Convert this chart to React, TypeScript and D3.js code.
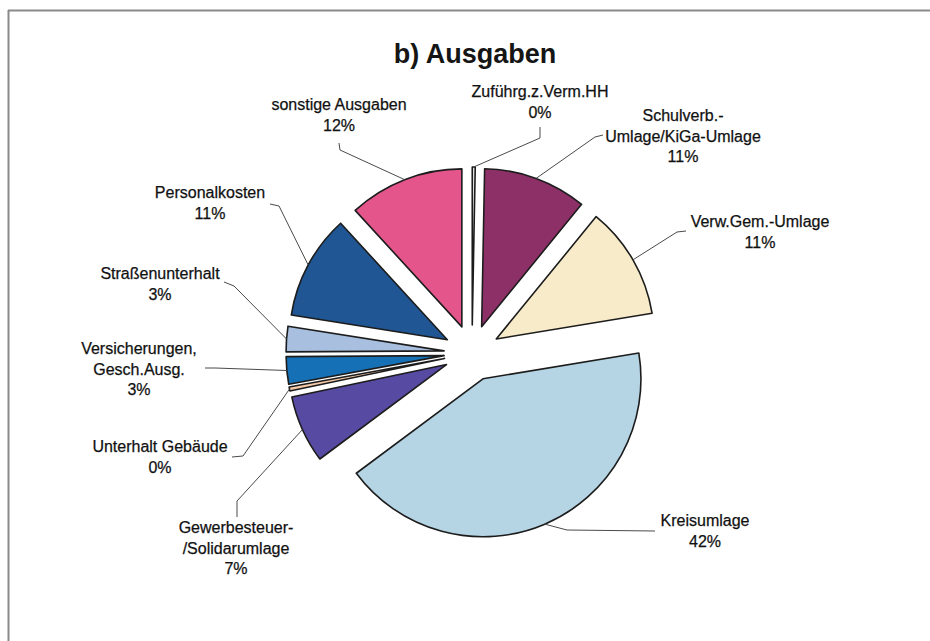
import React from "react";
import * as d3 from "d3";

const categories = [
  "Zuführg.z.Verm.HH",
  "Schulverb.-Umlage/KiGa-Umlage",
  "Verw.Gem.-Umlage",
  "Kreisumlage",
  "Gewerbesteuer-/Solidarumlage",
  "Unterhalt Gebäude",
  "Versicherungen, Gesch.Ausg.",
  "Straßenunterhalt",
  "Personalkosten",
  "sonstige Ausgaben",
];
const values = [0.3, 10.6, 11.5, 42.4, 6.9, 0.4, 2.8, 2.6, 10.7, 11.8];
const percentLabels = ["0%", "11%", "11%", "42%", "7%", "0%", "3%", "3%", "11%", "12%"];
const nameLines = [
  ["Zuführg.z.Verm.HH"],
  ["Schulverb.-", "Umlage/KiGa-Umlage"],
  ["Verw.Gem.-Umlage"],
  ["Kreisumlage"],
  ["Gewerbesteuer-", "/Solidarumlage"],
  ["Unterhalt Gebäude"],
  ["Versicherungen,", "Gesch.Ausg."],
  ["Straßenunterhalt"],
  ["Personalkosten"],
  ["sonstige Ausgaben"],
];
const colors = [
  "#ececec", "#8e3068", "#f7ebc9", "#b5d4e4", "#574aa3",
  "#f3c9a8", "#1670b5", "#a8bfe0", "#1f5693", "#e4558b",
];

// layout (text centre x, first baseline y, leader start, leader elbow)
const labelLayout = [
  { x: 540, y: 97, start: [540, 127], elbow: [540, 138] },
  { x: 683, y: 121, start: [603, 135], elbow: [595, 137] },
  { x: 760, y: 227, start: [686, 231], elbow: [677, 232] },
  { x: 705, y: 526, start: [655, 531], elbow: [567, 530] },
  { x: 236, y: 533, start: [237, 517], elbow: [237, 501] },
  { x: 160, y: 452, start: [232, 457], elbow: [243, 456] },
  { x: 139, y: 354, start: [205, 368], elbow: [215, 368] },
  { x: 160, y: 279, start: [224, 282], elbow: [234, 286] },
  { x: 210, y: 198, start: [270, 204], elbow: [279, 206] },
  { x: 339, y: 110, start: [339, 143], elbow: [340, 150] },
];

const W = 930;
const H = 641;
const cx = 472;
const cy = 353;
const radius = 158;
const explode = 28;

export default function App() {
  const pie = d3.pie<number>().sort(null).value((d) => d);
  const arcs = pie(values);
  const arcGen = d3.arc<d3.PieArcDatum<number>>().innerRadius(0).outerRadius(radius);
  const line = d3.line();

  return (
    <svg
      width={W}
      height={H}
      style={{ position: "absolute", left: 0, top: 0, background: "#fff" }}
      fontFamily="'Liberation Sans', Arial, sans-serif"
    >
      <rect x={0} y={0} width={W} height={H} fill="#fff" />
      <line x1={8} y1={10.5} x2={W} y2={10.5} stroke="#8a8a8a" strokeWidth={2} />
      <line x1={8.5} y1={10} x2={8.5} y2={H} stroke="#8a8a8a" strokeWidth={2} />
      <text
        x={475}
        y={63}
        textAnchor="middle"
        fontSize={27}
        fontWeight="bold"
        fill="#151515"
      >
        b) Ausgaben
      </text>
      <g transform={`translate(${cx},${cy})`}>
        {arcs.map((a, i) => {
          const mid = (a.startAngle + a.endAngle) / 2;
          const dx = explode * Math.sin(mid);
          const dy = -explode * Math.cos(mid);
          return (
            <path
              key={categories[i]}
              d={arcGen(a) || ""}
              transform={`translate(${dx},${dy})`}
              fill={colors[i]}
              stroke="#1c1c1c"
              strokeWidth={1.6}
              strokeLinejoin="round"
            />
          );
        })}
      </g>
      {arcs.map((a, i) => {
        const mid = (a.startAngle + a.endAngle) / 2;
        const r = explode + radius;
        const ex = cx + r * Math.sin(mid);
        const ey = cy - r * Math.cos(mid);
        const L = labelLayout[i];
        const pts: [number, number][] = [
          [L.start[0], L.start[1]],
          [L.elbow[0], L.elbow[1]],
          [ex, ey],
        ];
        return (
          <path
            key={"l" + i}
            d={line(pts) || ""}
            fill="none"
            stroke="#4a4a4a"
            strokeWidth={1}
          />
        );
      })}
      {nameLines.map((names, i) => {
        const L = labelLayout[i];
        const lines = [...names, percentLabels[i]];
        return (
          <text
            key={"t" + i}
            x={L.x}
            y={L.y}
            textAnchor="middle"
            fontSize={16}
            fill="#111"
            stroke="#111"
            strokeWidth={0.25}
          >
            {lines.map((s, j) => (
              <tspan key={j} x={L.x} dy={j === 0 ? 0 : 20.5}>
                {s}
              </tspan>
            ))}
          </text>
        );
      })}
    </svg>
  );
}
